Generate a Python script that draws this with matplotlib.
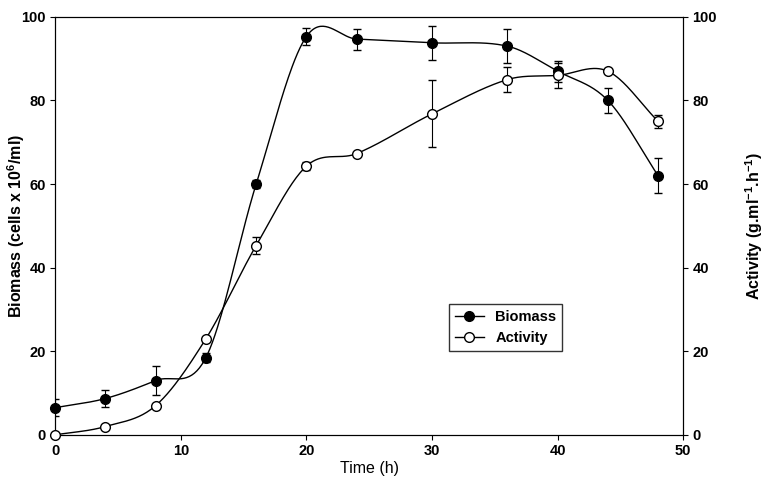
import numpy as np
import matplotlib.pyplot as plt

plt.rcParams['font.family'] = ['Liberation Sans', 'DejaVu Sans']
plt.rcParams['mathtext.fontset'] = 'custom'
plt.rcParams['mathtext.rm'] = 'Liberation Sans'
plt.rcParams['mathtext.bf'] = 'Liberation Sans:bold'

time = [0, 4, 8, 12, 16, 20, 24, 30, 36, 40, 44, 48]
biomass = [6.5, 8.7, 13.0, 18.5, 60.0, 95.3, 94.7, 93.8, 93.0, 87.0, 80.0, 62.0]
biomass_err = [2.0, 2.0, 3.5, 1.0, 1.0, 2.0, 2.5, 4.0, 4.0, 2.5, 3.0, 4.2]
activity = [0.0, 2.0, 7.0, 23.0, 45.3, 64.3, 67.3, 76.8, 85.0, 86.0, 87.0, 75.0]
activity_err = [0.0, 0.0, 0.0, 0.0, 2.0, 1.0, 0.0, 8.0, 3.0, 3.0, 0.0, 1.5]


def smooth(x, y, n=40):
    # Catmull-Rom style hermite curve through the points
    x = np.asarray(x, float)
    y = np.asarray(y, float)
    k = len(x)
    d = np.zeros(k)
    d[1:-1] = (y[2:] - y[:-2]) / (x[2:] - x[:-2])
    d[0] = (y[1] - y[0]) / (x[1] - x[0])
    d[-1] = (y[-1] - y[-2]) / (x[-1] - x[-2])
    xs_all, ys_all = [], []
    for i in range(k - 1):
        h = x[i + 1] - x[i]
        t = np.linspace(0, 1, n)
        h00 = 2 * t ** 3 - 3 * t ** 2 + 1
        h10 = t ** 3 - 2 * t ** 2 + t
        h01 = -2 * t ** 3 + 3 * t ** 2
        h11 = t ** 3 - t ** 2
        xs_all.append(x[i] + t * h)
        ys_all.append(h00 * y[i] + h10 * h * d[i] + h01 * y[i + 1] + h11 * h * d[i + 1])
    return np.concatenate(xs_all), np.concatenate(ys_all)


fig = plt.figure(figsize=(7.66, 4.97), dpi=100)
ax = fig.add_axes([0.072, 0.125, 0.82, 0.841])
ax2 = ax.twinx()

xs, ys = smooth(time, biomass)
ax.plot(xs, ys, color='black', lw=1)
ax.errorbar(time, biomass, yerr=biomass_err, fmt='none', ecolor='black', elinewidth=0.8, capsize=3)
ax.plot(time, biomass, 'o', color='black', ms=7, zorder=5, clip_on=False)

xs, ys = smooth(time, activity)
ax2.plot(xs, ys, color='black', lw=1)
ax2.errorbar(time, activity, yerr=activity_err, fmt='none', ecolor='black', elinewidth=0.8, capsize=3)
ax2.plot(time, activity, 'o', mfc='white', mec='black', ms=7, zorder=5, clip_on=False)

for a in (ax, ax2):
    a.set_ylim(0, 100)
    a.set_xlim(0, 50)
    a.tick_params(direction='out', labelsize=10.5, pad=3)
    for lab in a.get_yticklabels() + a.get_xticklabels():
        lab.set_fontweight('bold')
ax.set_xticks([0, 10, 20, 30, 40, 50])
ax.set_yticks([0, 20, 40, 60, 80, 100])
ax2.set_yticks([0, 20, 40, 60, 80, 100])
ax.set_xlabel('Time (h)', fontsize=11.5, labelpad=2)
ax.set_ylabel(r'Biomass (cells x 10$^{\mathbf{6}}$/ml)', fontsize=11.5, fontweight='bold')
ax2.set_ylabel(r'Activity (g.ml$^{\mathbf{-1}}$.h$^{\mathbf{-1}}$)', fontsize=11.5, fontweight='bold')
ax.yaxis.set_label_coords(-0.045, 0.5)
ax2.yaxis.set_label_coords(1.095, 0.5)

h1 = ax.plot([], [], '-o', color='black', ms=7, lw=1)[0]
h2 = ax.plot([], [], '-o', color='black', mfc='white', ms=7, lw=1)[0]
leg = ax.legend([h1, h2], ['Biomass', 'Activity'], loc='upper left', bbox_to_anchor=(0.615, 0.33),
                fancybox=False, edgecolor='black', prop={'weight': 'bold', 'size': 10.5})
leg.get_frame().set_linewidth(1)

fig.savefig('out.png', dpi=100)
